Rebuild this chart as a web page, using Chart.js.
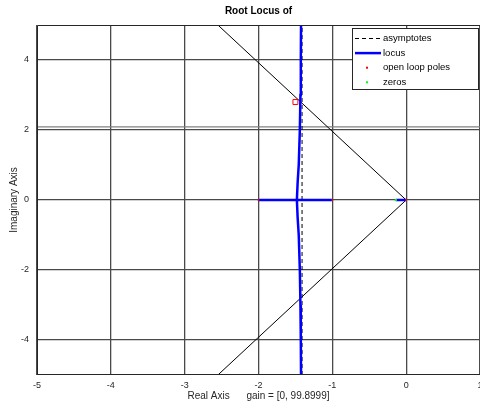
<!DOCTYPE html>
<html>
<head>
<meta charset="utf-8">
<script src="https://cdn.jsdelivr.net/npm/chart.js@4/dist/chart.umd.min.js"></script>
<style>
  html, body { margin: 0; padding: 0; background: #fff; }
  #wrap { width: 480px; height: 404px; }
</style>
</head>
<body>
<div id="wrap"><canvas id="c" width="480" height="404"></canvas></div>
<script>
// tick labels
const xTicks = [-5, -4, -3, -2, -1, 0, 1];
const yTicks = [-4, -2, 0, 2, 4];

// open loop poles and zeros (real axis)
const poles = [-2, -1, 0];
const zeros = [-0.14];

// locus branches
const locusReal1 = [[-2, 0], [-1, 0]];
const locusReal2 = [[-0.14, 0], [0, 0]];
const locusUpper = [[-1.48, 0], [-1.47, 0.5], [-1.455, 1], [-1.44, 2], [-1.432, 3], [-1.427, 4], [-1.424, 5]];
const locusLower = locusUpper.map(p => [p[0], -p[1]]);

// asymptote (centroid)
const asymptoteX = -1.41;

// damping lines from origin, extra line near 2
const dampUpper = [[0, 0], [-2.55, 5]];
const dampLower = [[0, 0], [-2.55, -5]];
const extraLineY = 2.09;

// selected point (red square)
const selected = [[-1.5, 2.8]];

const pts = arr => arr.map(p => ({ x: p[0], y: p[1] }));
const FONT = "'Liberation Sans', Arial, sans-serif";

const line = (data, color, width, dash) => ({
  data: pts(data), showLine: true, borderColor: color, borderWidth: width,
  borderDash: dash || [], pointRadius: 0, fill: false, tension: 0
});

const frameAndText = {
  id: 'frameAndText',
  afterDraw(chart) {
    const { ctx, chartArea: a } = chart;
    ctx.save();
    ctx.strokeStyle = '#262626';
    ctx.lineWidth = 1;
    ctx.beginPath();
    ctx.moveTo(a.left + 0.5, a.bottom - 0.5);
    ctx.lineTo(a.left + 0.5, a.top + 0.5);
    ctx.lineTo(a.right, a.top + 0.5);
    ctx.moveTo(a.left, a.bottom - 0.5);
    ctx.lineTo(a.right, a.bottom - 0.5);
    ctx.stroke();

    // title
    ctx.fillStyle = '#000';
    ctx.textAlign = 'center';
    ctx.textBaseline = 'middle';
    ctx.font = 'bold 10px ' + FONT;
    ctx.fillText('Root Locus of', (a.left + a.right) / 2, 11);

    // axis titles
    ctx.fillStyle = '#262626';
    ctx.font = '10px ' + FONT;
    ctx.fillText('Real Axis      gain = [0, 99.8999]', (a.left + a.right) / 2, 396);
    ctx.save();
    ctx.translate(14, (a.top + a.bottom) / 2);
    ctx.rotate(-Math.PI / 2);
    ctx.fillText('Imaginary Axis', 0, 0);
    ctx.restore();

    // legend
    const lx = 352, ly = 28, lw = 126, lh = 61;
    ctx.fillStyle = '#fff';
    ctx.fillRect(lx, ly, lw, lh);
    ctx.strokeStyle = '#262626';
    ctx.strokeRect(lx + 0.5, ly + 0.5, lw, lh);
    const items = [
      { t: 'asymptotes', kind: 'dash', c: '#000' },
      { t: 'locus', kind: 'line', c: '#0000ff' },
      { t: 'open loop poles', kind: 'dot', c: '#ff0000' },
      { t: 'zeros', kind: 'dot', c: '#00ff00' }
    ];
    ctx.textAlign = 'left';
    ctx.font = '9.5px ' + FONT;
    items.forEach((it, i) => {
      const y = ly + 10.5 + i * 14.6;
      if (it.kind === 'dot') {
        ctx.fillStyle = it.c;
        ctx.fillRect(366, y - 1, 2, 2);
      } else {
        ctx.beginPath();
        ctx.strokeStyle = it.c;
        ctx.lineWidth = it.kind === 'dash' ? 1 : 2.5;
        ctx.setLineDash(it.kind === 'dash' ? [4, 3] : []);
        ctx.moveTo(355, y);
        ctx.lineTo(381, y);
        ctx.stroke();
        ctx.setLineDash([]);
      }
      ctx.fillStyle = '#000';
      ctx.fillText(it.t, 383, y);
    });
    ctx.restore();
  }
};

new Chart(document.getElementById('c'), {
  type: 'scatter',
  data: {
    datasets: [
      {
        data: pts(selected), pointStyle: 'rect', pointRadius: 3.5,
        pointBorderColor: '#ff0000', pointBackgroundColor: 'rgba(0,0,0,0)', pointBorderWidth: 1
      },
      { data: poles.map(x => ({ x, y: 0 })), pointStyle: 'rect', pointRadius: 1.2, pointBorderWidth: 0, pointBackgroundColor: '#ff0000' },
      { data: zeros.map(x => ({ x, y: 0 })), pointStyle: 'rect', pointRadius: 1.5, pointBorderWidth: 0, pointBackgroundColor: '#00ff00' },
      line(locusUpper, '#0000ff', 2.5),
      line(locusLower, '#0000ff', 2.5),
      line(locusReal1, '#0000ff', 2.5),
      line(locusReal2, '#0000ff', 2.5),
      line([[asymptoteX, -5], [asymptoteX, 5]], '#000', 1, [4, 3]),
      line(dampUpper, '#000', 1),
      line(dampLower, '#000', 1),
      line([[-5, extraLineY], [1, extraLineY]], '#808080', 1.2)
    ]
  },
  options: {
    responsive: false,
    animation: false,
    events: [],
    layout: { autoPadding: false, padding: { top: 25, right: 0, left: 0, bottom: 0 } },
    plugins: { legend: { display: false }, tooltip: { enabled: false }, title: { display: false } },
    scales: {
      x: {
        type: 'linear', min: -5, max: 1,
        afterBuildTicks: s => { s.ticks = xTicks.map(v => ({ value: v })); },
        afterFit: s => { s.height = 29; s.paddingLeft = 0; s.paddingRight = 0; },
        grid: { color: '#4a4a4a', lineWidth: 1.3, drawTicks: false },
        border: { display: false },
        ticks: { padding: 5, color: '#262626', font: { size: 9, family: FONT }, maxRotation: 0, autoSkip: false }
      },
      y: {
        type: 'linear', min: -5, max: 5,
        afterBuildTicks: s => { s.ticks = yTicks.map(v => ({ value: v })); },
        afterFit: s => { s.width = 37; s.paddingTop = 0; s.paddingBottom = 0; },
        grid: { color: '#4a4a4a', lineWidth: 1.3, drawTicks: false },
        border: { display: false },
        ticks: { padding: 8, color: '#262626', font: { size: 9, family: FONT }, autoSkip: false }
      }
    }
  },
  plugins: [frameAndText]
});
</script>
</body>
</html>
